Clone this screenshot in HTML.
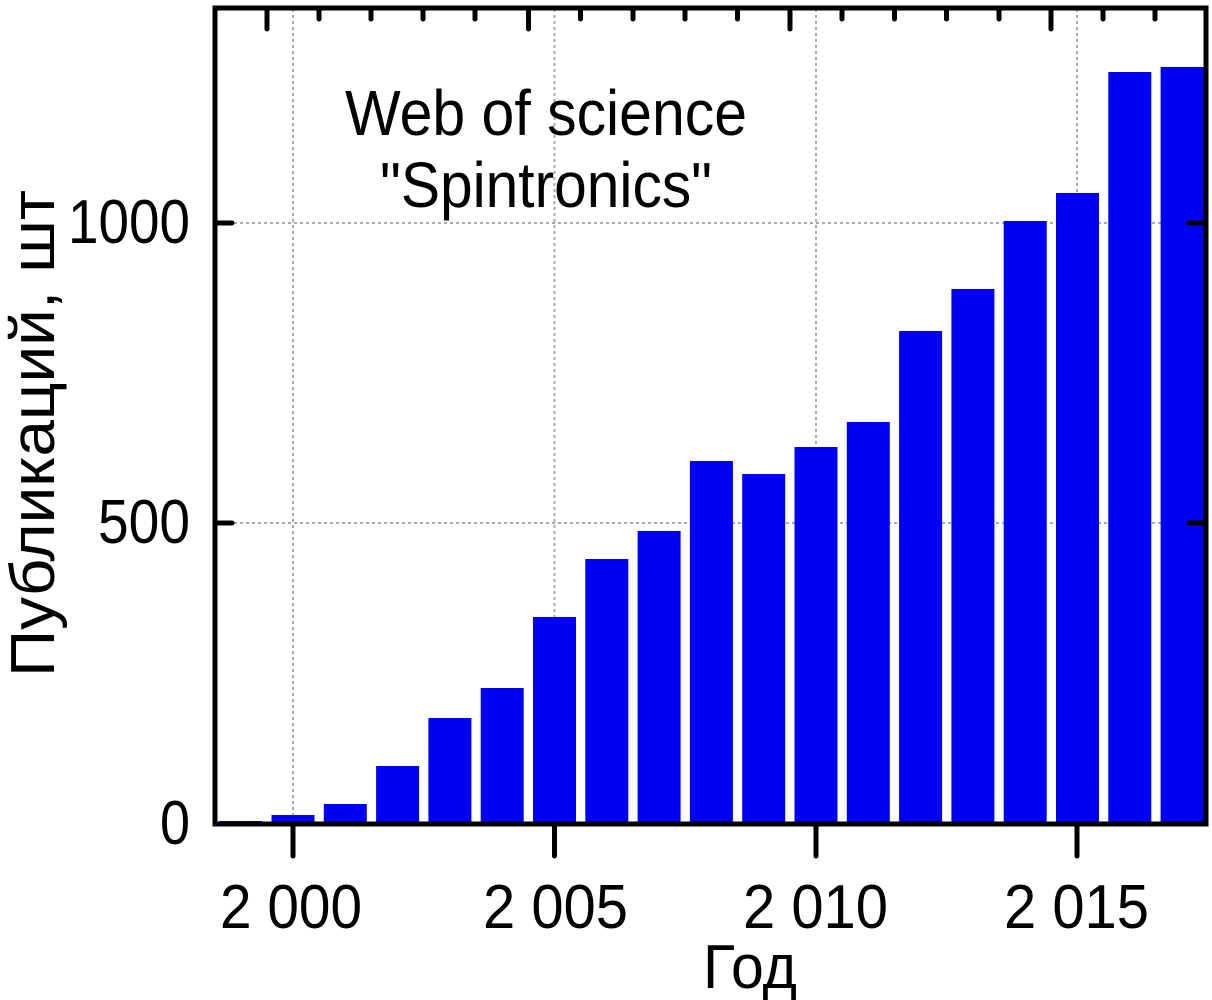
<!DOCTYPE html>
<html><head><meta charset="utf-8"><style>html,body{margin:0;padding:0;background:#fff;}svg{display:block}</style></head>
<body>
<svg width="1212" height="1000" viewBox="0 0 1212 1000" xmlns="http://www.w3.org/2000/svg" font-family="Liberation Sans, Arial, sans-serif">
<rect width="1212" height="1000" fill="#fff"/>
<g stroke="#aaa" stroke-width="2" stroke-dasharray="3,3">
<line x1="293" y1="9" x2="293" y2="822"/>
<line x1="554.5" y1="9" x2="554.5" y2="822"/>
<line x1="816" y1="9" x2="816" y2="822"/>
<line x1="1077" y1="9" x2="1077" y2="822"/>
<line x1="216" y1="523" x2="1205" y2="523"/>
<line x1="216" y1="223" x2="1205" y2="223"/>
</g>
<g fill="#0000f5">
<rect x="219" y="821" width="43" height="3"/>
<rect x="271.5" y="815" width="43" height="9"/>
<rect x="323.8" y="804" width="43" height="20"/>
<rect x="376.1" y="766" width="43" height="58"/>
<rect x="428.4" y="718" width="43" height="106"/>
<rect x="480.7" y="688" width="43" height="136"/>
<rect x="533" y="617" width="43" height="207"/>
<rect x="585.3" y="559" width="43" height="265"/>
<rect x="637.6" y="531" width="43" height="293"/>
<rect x="689.9" y="461" width="43" height="363"/>
<rect x="742.2" y="474" width="43" height="350"/>
<rect x="794.5" y="447" width="43" height="377"/>
<rect x="846.8" y="422" width="43" height="402"/>
<rect x="899.1" y="331" width="43" height="493"/>
<rect x="951.4" y="289" width="43" height="535"/>
<rect x="1003.7" y="221" width="43" height="603"/>
<rect x="1056" y="193" width="43" height="631"/>
<rect x="1108.3" y="72" width="43" height="752"/>
<rect x="1160.6" y="67" width="43" height="757"/>
</g>
<rect x="215" y="8" width="991" height="816" fill="none" stroke="#000" stroke-width="5"/>
<g stroke="#000" stroke-width="5" stroke-linecap="round">
<line x1="293" y1="826" x2="293" y2="856"/>
<line x1="554.5" y1="826" x2="554.5" y2="856"/>
<line x1="816" y1="826" x2="816" y2="856"/>
<line x1="1077" y1="826" x2="1077" y2="856"/>
<line x1="267" y1="10" x2="267" y2="29"/>
<line x1="528.5" y1="10" x2="528.5" y2="29"/>
<line x1="790" y1="10" x2="790" y2="29"/>
<line x1="1051" y1="10" x2="1051" y2="29"/>
<line x1="217" y1="523" x2="232" y2="523"/>
<line x1="217" y1="223" x2="232" y2="223"/>
<line x1="1189" y1="523" x2="1204" y2="523"/>
<line x1="1189" y1="223" x2="1204" y2="223"/>
</g>
<g stroke="#000" stroke-width="5" stroke-linecap="round">
<line x1="319" y1="10" x2="319" y2="19"/><line x1="371" y1="10" x2="371" y2="19"/><line x1="423" y1="10" x2="423" y2="19"/><line x1="475" y1="10" x2="475" y2="19"/>
<line x1="580.5" y1="10" x2="580.5" y2="19"/><line x1="633" y1="10" x2="633" y2="19"/><line x1="685" y1="10" x2="685" y2="19"/><line x1="737.5" y1="10" x2="737.5" y2="19"/>
<line x1="842" y1="10" x2="842" y2="19"/><line x1="894.5" y1="10" x2="894.5" y2="19"/><line x1="946.5" y1="10" x2="946.5" y2="19"/><line x1="999" y1="10" x2="999" y2="19"/>
<line x1="1103" y1="10" x2="1103" y2="19"/><line x1="1155" y1="10" x2="1155" y2="19"/>
</g>
<g fill="#000" font-size="62">
<text x="68" y="243" textLength="122" lengthAdjust="spacingAndGlyphs">1000</text>
<text x="98" y="543" textLength="92" lengthAdjust="spacingAndGlyphs">500</text>
<text x="160" y="844" textLength="30" lengthAdjust="spacingAndGlyphs">0</text>
<text x="220" y="928" textLength="142" lengthAdjust="spacingAndGlyphs">2 000</text>
<text x="483" y="928" textLength="145" lengthAdjust="spacingAndGlyphs">2 005</text>
<text x="743" y="928" textLength="145" lengthAdjust="spacingAndGlyphs">2 010</text>
<text x="1004" y="928" textLength="145" lengthAdjust="spacingAndGlyphs">2 015</text>
<text x="703" y="988" textLength="94" lengthAdjust="spacingAndGlyphs">Год</text>
<text transform="translate(54,677) rotate(-90)" font-size="62" textLength="487" lengthAdjust="spacingAndGlyphs">Публикаций, шт</text>
<text x="345" y="135" font-size="64" textLength="402" lengthAdjust="spacingAndGlyphs">Web of science</text>
<text x="380" y="207" font-size="64" textLength="332" lengthAdjust="spacingAndGlyphs">"Spintronics"</text>
</g>
</svg>
</body></html>
